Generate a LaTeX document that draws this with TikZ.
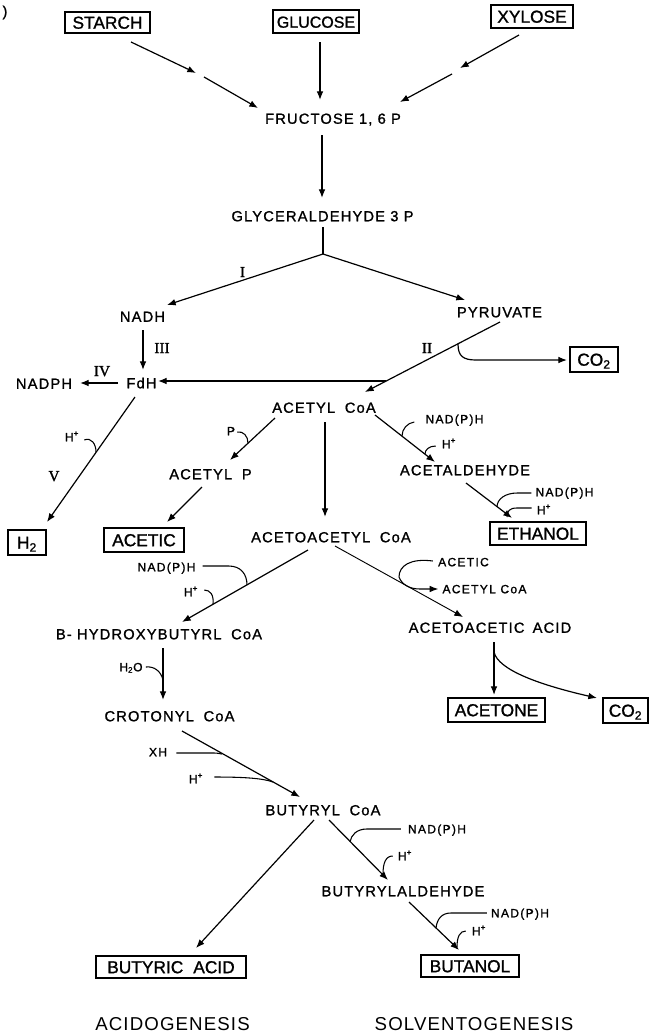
\documentclass[tikz,border=0pt]{standalone}
\usepackage{fontspec}
\usetikzlibrary{arrows.meta}
\newfontfamily\lblfont[LetterSpace=8,FakeBold=1.2]{Liberation Sans}
\newfontfamily\smlfont[LetterSpace=11,FakeBold=1.4]{Liberation Sans}
\newfontfamily\bxfont[FakeBold=1.2]{Liberation Sans}
\newfontfamily\rmnfont[FakeBold=1.5]{Liberation Serif}
\newfontfamily\bigfont[LetterSpace=6]{Liberation Sans}
\tikzset{
 lbl/.style={inner sep=0pt, font=\lblfont\fontsize{11}{13}\selectfont, text height=7.9pt, text depth=0pt},
 sml/.style={inner sep=0pt, font=\smlfont\fontsize{9}{11}\selectfont, text height=6.4pt, text depth=0pt},
 bx/.style={draw, line width=0.9pt, inner sep=0pt, font=\bxfont\fontsize{13}{15}\selectfont, text height=9.3pt, text depth=0pt},
 rmn/.style={inner sep=0pt, font=\rmnfont\fontsize{11.5}{13}\selectfont, text height=7.6pt, text depth=0pt},
 big/.style={inner sep=0pt, font=\bigfont\fontsize{14}{16}\selectfont, text height=10pt, text depth=0pt},
 arr/.style={line width=0.9pt, -{Latex[length=6.5pt,width=5pt]}},
 ln/.style={line width=0.9pt},
 hook/.style={line width=0.8pt},
}
\begin{document}
\begin{tikzpicture}[x=0.75pt,y=-0.75pt]
\useasboundingbox (0,0) rectangle (649,1035);
% ---------- labels ----------
\node[lbl] (paren) at (5,11) {)};
\node[bx, minimum width=63.75pt, minimum height=15.75pt] (starch) at (107.5,22.5) {STARCH};
\node[bx, minimum width=64.5pt, minimum height=17.25pt, font=\bxfont\fontsize{12}{14}\selectfont] (glucose) at (316,21.5) {GLUCOSE};
\node[bx, minimum width=61.5pt, minimum height=17.25pt] (xylose) at (532,16.5) {XYLOSE};
\node[lbl] (fru) at (333,118.5) {FRUCTOSE 1, 6 P};
\node[lbl] (gly) at (322.5,216) {GLYCERALDEHYDE 3 P};
\node[lbl] (nadh) at (142.5,316.5) {NADH};
\node[lbl] (pyr) at (499.5,312) {PYRUVATE};
\node[lbl] (nadph) at (44,383.5) {NADPH};
\node[lbl] (fdh) at (141.5,383) {FdH};
\node[lbl] (acoa) at (324,407.5) {ACETYL\hspace{0.3em} CoA};
\node[lbl] (acp) at (210.5,474) {ACETYL\hspace{0.3em} P};
\node[lbl] (acald) at (465,470) {ACETALDEHYDE};
\node[lbl] (aacoa) at (331,537) {ACETOACETYL\hspace{0.3em} CoA};
\node[lbl] (hbcoa) at (159,634) {B- HYDROXYBUTYRL\hspace{0.3em} CoA};
\node[lbl] (aaacid) at (490,627.5) {ACETOACETIC\hspace{0.2em} ACID};
\node[lbl] (crcoa) at (169.5,716) {CROTONYL\hspace{0.3em} CoA};
\node[lbl] (bcoa) at (323,810) {BUTYRYL\hspace{0.3em} CoA};
\node[lbl] (bald) at (403,891) {BUTYRYLALDEHYDE};
% roman numerals
\node[rmn] (rI) at (242.5,272) {I};
\node[rmn] (rII) at (427,348) {II};
\node[rmn] (rIII) at (162,348) {III};
\node[rmn] (rIV) at (102,371) {IV};
\node[rmn] (rV) at (54,476) {V};
% boxes
\node[bx, minimum width=36pt, minimum height=18.75pt] (co2a) at (594,359.5) {CO\textsubscript{2}};
\node[bx, minimum width=28.5pt, minimum height=18.75pt] (h2) at (27,542.5) {H\textsubscript{2}};
\node[bx, minimum width=60pt, minimum height=18pt] (acetic) at (144,540) {ACETIC};
\node[bx, minimum width=72pt, minimum height=17.25pt] (ethanol) at (538,533.5) {ETHANOL};
\node[bx, minimum width=72.75pt, minimum height=18pt] (acetone) at (496.5,710) {ACETONE};
\node[bx, minimum width=33.75pt, minimum height=18.75pt] (co2b) at (625.5,710.5) {CO\textsubscript{2}};
\node[bx, minimum width=112.5pt, minimum height=16.5pt] (butyric) at (171,967) {BUTYRIC\hspace{0.3em} ACID};
\node[bx, minimum width=73.5pt, minimum height=16.5pt] (butanol) at (470,966) {BUTANOL};
% small labels
\node[sml] (hpa) at (72,437) {H\textsuperscript{+}};
\node[sml] (pl) at (231,431) {P};
\node[sml] (ndA) at (454.5,419) {NAD(P)H};
\node[sml] (hpB) at (449,444) {H\textsuperscript{+}};
\node[sml] (ndC) at (564.5,492) {NAD(P)H};
\node[sml] (hpC) at (544,510) {H\textsuperscript{+}};
\node[sml] (ndD) at (166.5,567) {NAD(P)H};
\node[sml] (hpD) at (191,592) {H\textsuperscript{+}};
\node[sml] (acs) at (463.5,562) {ACETIC};
\node[sml] (acoas) at (484.5,589) {ACETYL CoA};
\node[sml] (h2o) at (131,667) {H\textsubscript{2}O};
\node[sml] (xh) at (158,752) {XH};
\node[sml] (hpE) at (196,779) {H\textsuperscript{+}};
\node[sml] (ndF) at (437,829) {NAD(P)H};
\node[sml] (hpF) at (405,856) {H\textsuperscript{+}};
\node[sml] (ndG) at (520,913) {NAD(P)H};
\node[sml] (hpG) at (479,931) {H\textsuperscript{+}};
% bottom
\node[big] (acido) at (172.5,1023.5) {ACIDOGENESIS};
\node[big] (solvo) at (474,1024) {SOLVENTOGENESIS};
% ---------- coordinates ----------
\coordinate (st1) at (131,42); \coordinate (st2) at (196,73);
\coordinate (st3) at (204,77); \coordinate (st4) at (258,108);
\coordinate (gl1) at (320,42); \coordinate (gl2) at (320,100);
\coordinate (xy1) at (519,35); \coordinate (xy2) at (460,68);
\coordinate (xy3) at (452,74); \coordinate (xy4) at (400,102);
\coordinate (fr1) at (322,135); \coordinate (fr2) at (322,198);
\coordinate (gy1) at (323,227); \coordinate (bp) at (323,254);
\coordinate (nadhin) at (167,305); \coordinate (pyrin) at (465,300);
\coordinate (nd1) at (143,330); \coordinate (nd2) at (143,370);
\coordinate (fd1) at (118,383); \coordinate (fd2) at (80,383);
\coordinate (py1) at (500,322); \coordinate (py2) at (365,392);
\coordinate (fdj) at (386,381); \coordinate (fdin) at (158,381);
\coordinate (co2j) at (458,344); \coordinate (co2in) at (567,360);
\coordinate (fh1) at (135,397); \coordinate (h2in) at (47,522);
\coordinate (ac1) at (275,418); \coordinate (acpin) at (230,460);
\coordinate (ap1) at (202,487); \coordinate (acin) at (167,522);
\coordinate (av1) at (325,422); \coordinate (av2) at (325,517);
\coordinate (ad1) at (375,415); \coordinate (ad2) at (435,462);
\coordinate (et1) at (466,483); \coordinate (et2) at (512,518);
\coordinate (aa1) at (308,550); \coordinate (aa2) at (182,622);
\coordinate (ab1) at (335,546); \coordinate (ab2) at (463,617);
\coordinate (ao1) at (494,642); \coordinate (ao2) at (494,695);
\coordinate (aoj) at (494,652); \coordinate (co2bin) at (597,698);
\coordinate (hb1) at (163,648); \coordinate (hb2) at (163,700);
\coordinate (cr1) at (182,731); \coordinate (cr2) at (300,797);
\coordinate (bc1) at (314,820); \coordinate (bc2) at (196,948);
\coordinate (bd1) at (329,820); \coordinate (bd2) at (388,880);
\coordinate (bn1) at (409,902); \coordinate (bn2) at (459,950);
% join points of hooks
\coordinate (j1) at (96,452);
\coordinate (j2) at (248,443);
\coordinate (j3) at (402,436);
\coordinate (j4) at (425,454);
\coordinate (j5) at (497,507);
\coordinate (j6) at (507,517);
\coordinate (j7) at (247,585);
\coordinate (j8) at (213,604);
\coordinate (j12) at (163,680);
\coordinate (j13) at (222,754);
\coordinate (j14) at (273,782);
\coordinate (j15) at (350,842);
\coordinate (j16) at (383,874);
\coordinate (j17) at (436,928);
\coordinate (j18) at (457,947);
% ---------- connectors ----------
\draw[arr] (st1) -- (st2);
\draw[arr] (st3) -- (st4);
\draw[arr] (gl1) -- (gl2);
\draw[arr] (xy1) -- (xy2);
\draw[arr] (xy3) -- (xy4);
\draw[arr] (fr1) -- (fr2);
\draw[ln] (gy1) -- (bp);
\draw[arr] (bp) -- (nadhin);
\draw[arr] (bp) -- (pyrin);
\draw[arr] (nd1) -- (nd2);
\draw[arr] (fd1) -- (fd2);
\draw[arr] (py1) -- (py2);
\draw[arr] (fdj) -- (fdin);
\draw[arr] (co2j) .. controls (458,356) and (463,360) .. (476,360) -- (co2in);
\draw[arr] (fh1) -- (h2in);
\draw[arr] (ac1) -- (acpin);
\draw[arr] (ap1) -- (acin);
\draw[arr] (av1) -- (av2);
\draw[arr] (ad1) -- (ad2);
\draw[arr] (et1) -- (et2);
\draw[arr] (aa1) -- (aa2);
\draw[arr, line width=0.7pt] (ab1) -- (ab2);
\draw[arr] (ao1) -- (ao2);
\draw[arr] (aoj) .. controls (498,670) and (540,685) .. (co2bin);
\draw[arr] (hb1) -- (hb2);
\draw[arr] (cr1) -- (cr2);
\draw[arr] (bc1) -- (bc2);
\draw[arr] (bd1) -- (bd2);
\draw[arr] (bn1) -- (bn2);
% ---------- hooks ----------
\draw[hook] (hpa.east) ++(5,3) .. controls +(7,-3) and +(0,-8) .. (j1);
\draw[hook] (pl.east) ++(2,1) .. controls +(6,-1) and +(0,-7) .. (j2);
\draw[hook] (ndA.west) ++(-11,3) .. controls +(-7,1) and +(0,-7) .. (j3);
\draw[hook] (hpB.west) ++(-6,2) .. controls +(-7,0) and +(0,-4) .. (j4);
\draw[hook] (ndC.west) ++(-4,1) -- ++(-14,0) .. controls +(-12,0) and +(0,-8) .. (j5);
\draw[hook] (hpC.west) ++(-5,-2) -- ++(-15,0) .. controls +(-7,0) and +(0,-6) .. (j6);
\draw[hook] (ndD.east) ++(7,-1) -- ++(26,0) .. controls +(12,0) and +(0,-11) .. (j7);
\draw[hook] (hpD.east) ++(6,-2) .. controls +(6,0) and +(1,-9) .. (j8);
\draw[arr, line width=0.8pt] (acs.west) ++(-5,-1) .. controls +(-23,-3) and +(0,-11) .. (399,577) .. controls (402,585) and (410,589) .. (420,589) -- ([xshift=-3pt]acoas.west);
\draw[hook] (h2o.east) ++(3,0) .. controls +(8,-1) and +(-2,-9) .. (j12);
\draw[hook] (xh.east) ++(9,1) -- ++(38,0) .. controls +(4,0) and +(-2,0) .. (j13);
\draw[hook] (hpE.east) ++(11,-2) .. controls +(27,0) and +(-11,-4) .. (j14);
\draw[hook] (ndF.west) ++(-7,0) -- ++(-34,0) .. controls +(-10,0) and +(1,-7) .. (j15);
\draw[hook] (hpF.west) ++(-5,0) .. controls +(-7,0) and +(0,-11) .. (j16);
\draw[hook] (ndG.west) ++(-4,0) -- ++(-36,0) .. controls +(-9,0) and +(1,-9) .. (j17);
\draw[hook] (hpG.west) ++(-6,0) .. controls +(-6,0) and +(0,-10) .. (j18);
\end{tikzpicture}
\end{document}
